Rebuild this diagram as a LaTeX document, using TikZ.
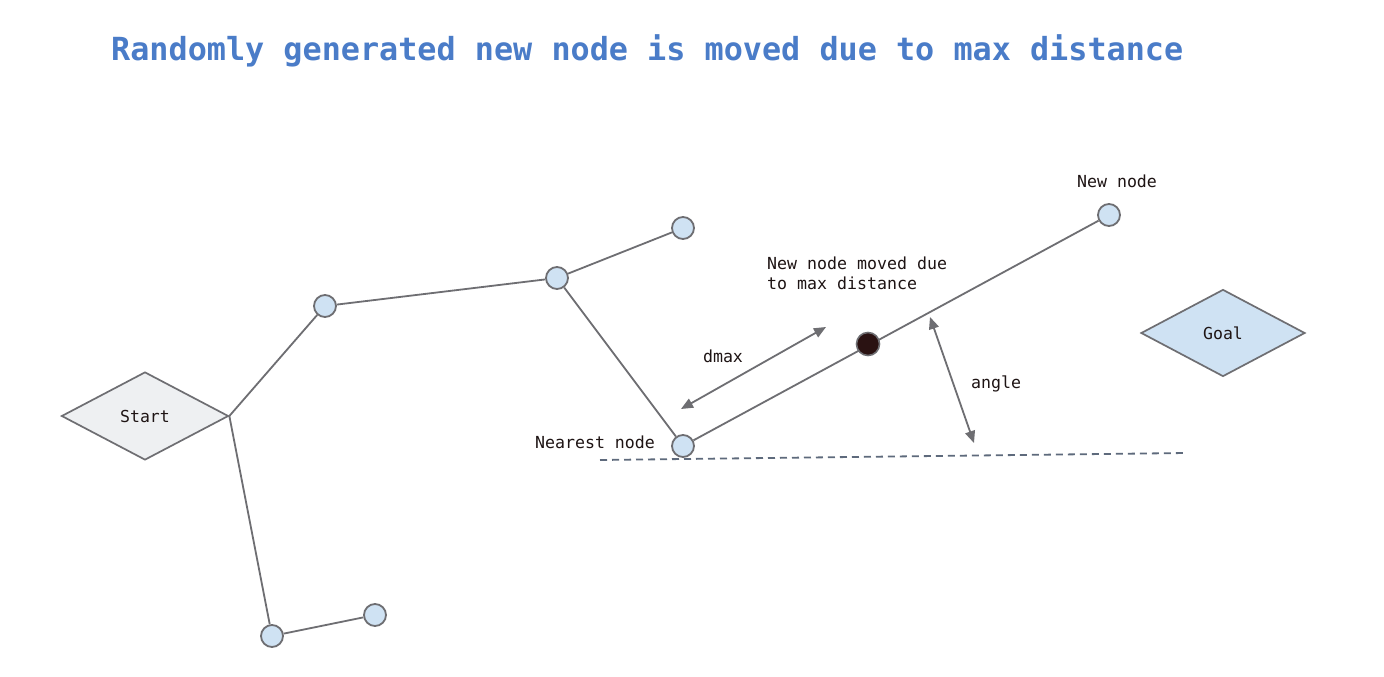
\documentclass[tikz,border=0pt]{standalone}
\usepackage{fontspec}
\setmonofont{DejaVu Sans Mono}
\usetikzlibrary{shapes.geometric,arrows.meta}
\definecolor{titleblue}{HTML}{4A7CC8}
\definecolor{nodefill}{HTML}{CFE2F3}
\definecolor{startfill}{HTML}{EEF0F2}
\definecolor{edgegray}{HTML}{6E6E72}
\definecolor{dashgray}{HTML}{5E6A7C}
\definecolor{darkdot}{HTML}{2A1212}
\definecolor{labelcol}{HTML}{1E1414}
\begin{document}
\begin{tikzpicture}[x=1pt,y=-1pt,
  treenode/.style={circle,draw=edgegray,fill=nodefill,line width=1.8pt,minimum size=22pt,inner sep=0pt},
  flowdiamond/.style={diamond,draw=edgegray,line width=1.7pt,inner sep=0pt,font=\ttfamily\fontsize{16.5}{18}\selectfont,text=labelcol},
  edge/.style={draw=edgegray,line width=1.8pt},
  lbl/.style={font=\ttfamily\fontsize{16.6}{20}\selectfont,text=labelcol,inner sep=0pt},
  dimarrow/.style={draw=edgegray,line width=1.8pt,{Triangle[length=12pt,width=10pt]}-{Triangle[length=12pt,width=10pt]}}
]
\useasboundingbox (0,0) rectangle (1384,677);
\fill[white] (0,0) rectangle (1384,677);

\node[font=\ttfamily\bfseries\fontsize{31.8}{36}\selectfont,text=titleblue,anchor=west,inner sep=0pt] (title) at (111,51) {Randomly generated new node is moved due to max distance};

\node[flowdiamond,fill=startfill,minimum width=167pt,minimum height=88pt] (start) at (145,416) {Start};
\node[flowdiamond,fill=nodefill,minimum width=164pt,minimum height=87pt] (goal) at (1223,333) {Goal};

\node[treenode] (n1) at (325,306) {};
\node[treenode] (n2) at (557,278) {};
\node[treenode] (n3) at (683,228) {};
\node[treenode] (near) at (683,446) {};
\node[treenode] (n4) at (272,636) {};
\node[treenode] (n5) at (375,615) {};
\node[treenode] (new) at (1109,215) {};

\draw[edge] (start.east) -- (n1);
\draw[edge] (start.east) -- (n4);
\draw[edge] (n1) -- (n2);
\draw[edge] (n2) -- (n3);
\draw[edge] (n2) -- (near);
\draw[edge] (n4) -- (n5);
\draw[edge] (near) -- (new);

\node[circle,draw=edgegray,fill=darkdot,line width=1.6pt,minimum size=23pt,inner sep=0pt] (moved) at (868,344) {};

\coordinate (dA) at (600,460);
\coordinate (dB) at (1186,453);
\draw[draw=dashgray,line width=1.8pt,dash pattern=on 7pt off 5pt] (dA) -- (dB);

\coordinate (dm1) at (681,409);
\coordinate (dm2) at (826,327);
\draw[dimarrow] (dm1) -- (dm2);
\coordinate (an1) at (930,317);
\coordinate (an2) at (974,443);
\draw[dimarrow] (an1) -- (an2);

\node[lbl] (lnew) at (1117,181) {New node};
\node[lbl,anchor=north west,align=left] (lmoved) at (767,257) {New node moved due\\to max distance};
\node[lbl] (ldmax) at (723,356) {dmax};
\node[lbl] (langle) at (996,384) {angle};
\node[lbl] (lnear) at (595,442) {Nearest node};
\end{tikzpicture}
\end{document}
